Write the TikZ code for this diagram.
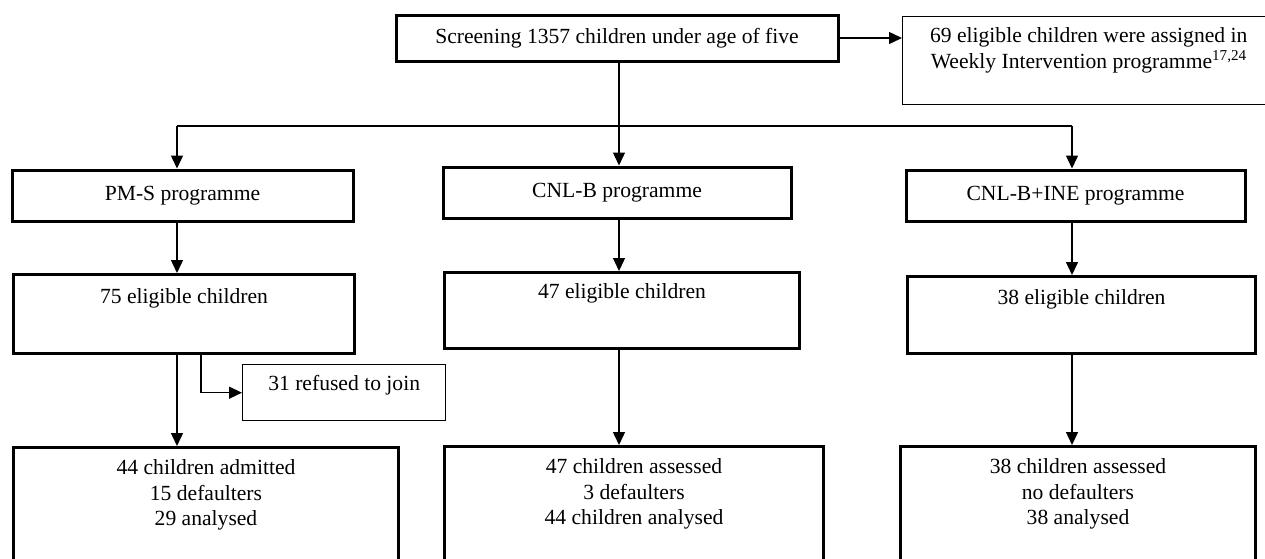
\documentclass[tikz,border=0pt]{standalone}
\usepackage{fontspec}
\setmainfont{Liberation Serif}
\usetikzlibrary{arrows.meta}
\tikzset{
  box/.style={draw, line width=3pt, inner sep=0pt, align=flush center},
  thinbox/.style={draw, line width=1.4pt, inner sep=0pt, align=flush center},
  arr/.style={-{Triangle[length=13pt,width=12pt]}, line width=1.4pt},
  ln/.style={line width=1.4pt}
}
\begin{document}
\begin{tikzpicture}[x=1pt, y=-1pt, font=\fontsize{21.6}{25.5}\selectfont]
      \useasboundingbox (0,0) rectangle (1265,558);
      \node[box, minimum width=442, minimum height=46] (S) at (617,38) {Screening 1357 children under age of five};
      \node[thinbox, anchor=north west, text width=372, text height=26, text depth=62] (W) at (902,16) {69 eligible children were assigned in\\ Weekly Intervention programme\textsuperscript{17,24}};
      \node[box, minimum width=341, minimum height=51] (P1) at (182.5,195.5) {PM-S programme};
      \node[box, minimum width=348, minimum height=51] (C1) at (617,192.5) {CNL-B programme};
      \node[box, minimum width=339, minimum height=51] (I1) at (1075.5,195.5) {CNL-B+INE programme};
      \node[box, anchor=north west, text width=341, text height=29, text depth=50] (P2) at (12,273) {75 eligible children};
      \node[box, anchor=north west, text width=355, text height=26, text depth=50] (C2) at (443,271) {47 eligible children};
      \node[box, anchor=north west, text width=348, text height=28, text depth=49] (I2) at (906,275) {38 eligible children};
      \node[thinbox, anchor=north west, text width=203, text height=26, text depth=30] (R) at (242,364) {31 refused to join};
      \node[box, anchor=north west, text width=385, text height=27, text depth=100] (P3) at (12,446) {44 children admitted\\ 15 defaulters\\ 29 analysed};
      \node[box, anchor=north west, text width=379, text height=27, text depth=100] (C3) at (443,445) {47 children assessed\\ 3 defaulters\\ 44 children analysed};
      \node[box, anchor=north west, text width=355, text height=27, text depth=100] (I3) at (899,445) {38 children assessed\\ no defaulters\\ 38 analysed};
      \coordinate (L) at (177,126);
      \coordinate (M) at (619,126);
      \coordinate (Q) at (1072,126);
      \coordinate (E) at (201,391);
      \draw [arr] (S.east) -- (S.east -| W.west);
      \draw [arr] (S.south -| M) -- (C1.north -| M);
      \draw [ln] (L) -- (Q);
      \draw [arr] (L) -- (L |- P1.north);
      \draw [arr] (Q) -- (Q |- I1.north);
      \draw [arr] (P1.south -| L) -- (P2.north -| L);
      \draw [arr] (P2.south -| L) -- (P3.north -| L);
      \draw [arr] (P2.south -| E) |- (R.west);
      \draw [arr] (C1.south -| M) -- (C2.north -| M);
      \draw [arr] (C2.south -| M) -- (C3.north -| M);
      \draw [arr] (I1.south -| Q) -- (I2.north -| Q);
      \draw [arr] (I2.south -| Q) -- (I3.north -| Q);
    \end{tikzpicture}
\end{document}
